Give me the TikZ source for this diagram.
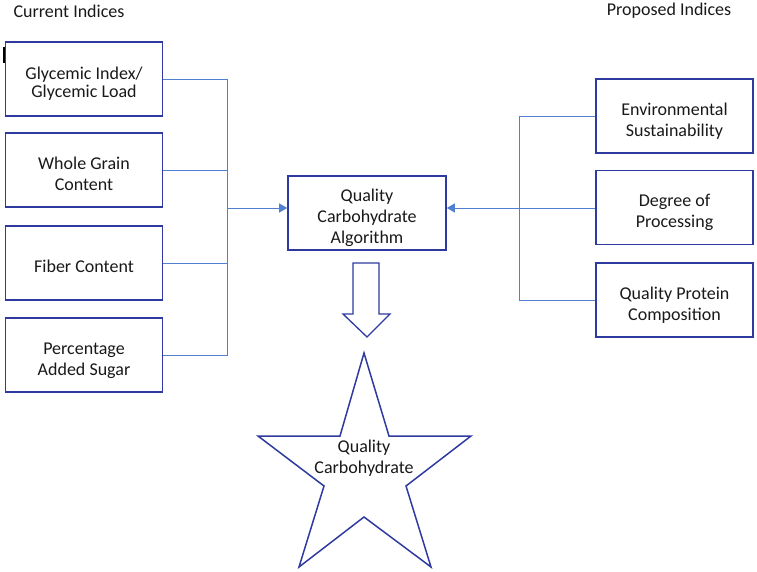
\documentclass[tikz,border=0pt]{standalone}
\usepackage{fontspec}
\setmainfont{Carlito}
\usetikzlibrary{arrows.meta}
\definecolor{boxblue}{RGB}{46,58,160}
\definecolor{lineblue}{RGB}{79,129,208}
\newcommand\lowtext[1]{\raisebox{-5.5pt}[\height][\depth]{\begin{tabular}{@{}c@{}}#1\end{tabular}}}
\begin{document}
\begin{tikzpicture}[x=1pt,y=-1pt,
  box/.style={draw=boxblue,line width=1.6pt,minimum width=157pt,minimum height=74pt,
    inner sep=2pt,align=center,font=\fontsize{18}{21}\selectfont,text=black!90},
  conn/.style={draw=lineblue,line width=0.9pt},
  arr/.style={conn,-{Triangle[length=8pt,width=9pt]}},
  label/.style={font=\fontsize{18}{21}\selectfont,text=black!90,inner sep=0pt}]
\useasboundingbox (0,0) rectangle (757,572);
% titles
\node[label] (cur) at (69,11) {Current Indices};
\node[label] (prop) at (669,11) {Proposed Indices};
% left boxes
\node[box,font=\fontsize{18}{18}\selectfont] (l1) at (84,79) {\lowtext{Glycemic Index/\\Glycemic Load}};
\node[box] (l2) at (84,170) {\lowtext{Whole Grain\\Content}};
\node[box] (l3) at (84,263) {\lowtext{Fiber Content}};
\node[box] (l4) at (84,355) {\lowtext{Percentage\\Added Sugar}};
\draw[black,line width=1.4pt] (4,47) -- (4,63);
% center
\node[box,minimum width=158pt] (alg) at (367,213) {\lowtext{Quality\\Carbohydrate\\Algorithm}};
% right boxes
\node[box] (r1) at (674.5,116) {\lowtext{Environmental\\Sustainability}};
\node[box] (r2) at (674.5,207.5) {\lowtext{Degree of\\Processing}};
\node[box] (r3) at (674.5,300) {\lowtext{Quality Protein\\Composition}};
% junctions
\coordinate (jl) at (227,208);
\coordinate (jr) at (519,208);
\draw[conn] (l1.east) -| (jl);
\draw[conn] (l4.east) -| (jl);
\draw[conn] (l2.east) -- (l2.east -| jl);
\draw[conn] (l3.east) -- (l3.east -| jl);
\draw[arr] (jl) -- (alg.west |- jl);
\draw[conn] (r1.west) -| (jr);
\draw[conn] (r3.west) -| (jr);
\draw[arr] (r2.west |- jr) -- (alg.east |- jr);
% down arrow
\draw[boxblue,line width=1.3pt,line join=miter] (353,263) -- (379,263) -- (379,314) -- (390,314) -- (367,337) -- (343,314) -- (353,314) -- cycle;
% star
\draw[boxblue,line width=1.5pt,line join=miter] (364,353) -- (389,436) -- (471,436) -- (406,486) -- (431,567) -- (364,517) -- (299,567) -- (324,486) -- (258,436) -- (340,436) -- cycle;
\node[align=center,font=\fontsize{18}{21}\selectfont,text=black!90] (star) at (364,458) {Quality\\Carbohydrate};
\end{tikzpicture}
\end{document}
